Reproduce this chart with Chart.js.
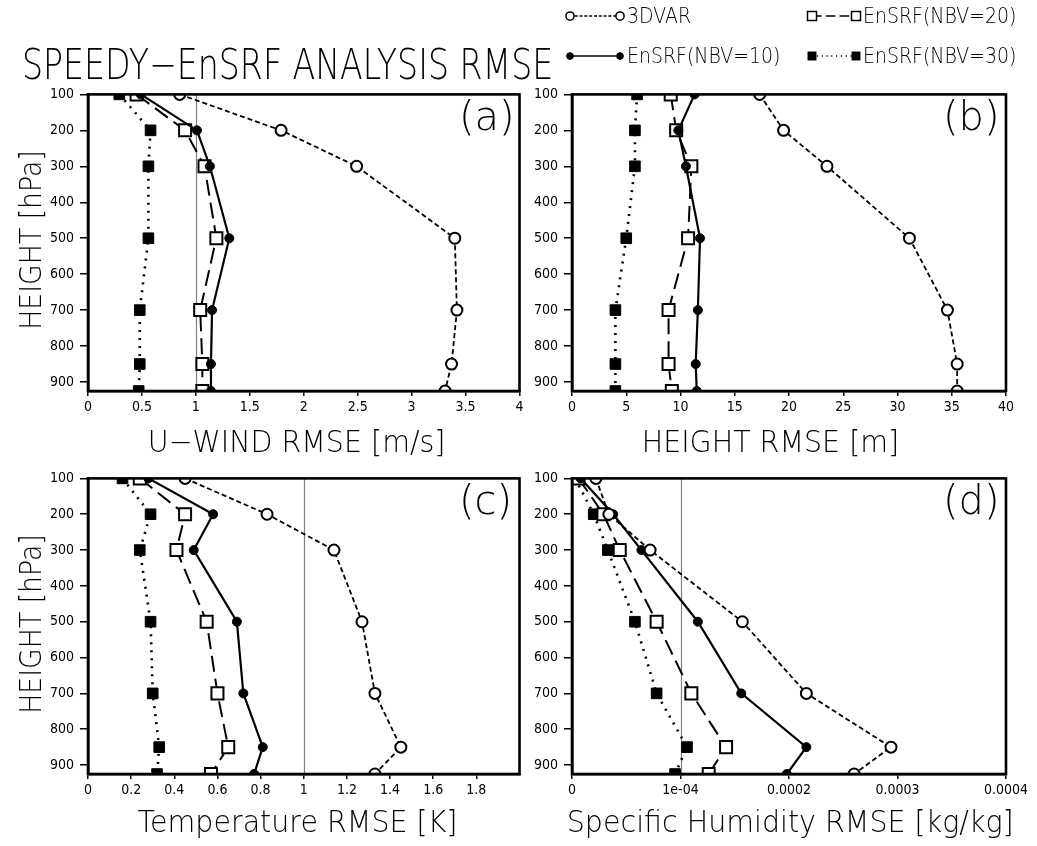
<!DOCTYPE html>
<html><head><meta charset="utf-8">
<script src="https://cdn.jsdelivr.net/npm/chart.js@4.4.1/dist/chart.umd.min.js"></script>
<style>
body{margin:0;background:#fff;width:1037px;height:846px;overflow:hidden;position:relative;font-family:'DejaVu Sans',sans-serif;}
canvas{position:absolute;}
.t{position:absolute;white-space:nowrap;font-weight:200;color:#000;line-height:1;}
.s{display:inline-block;}
svg{position:absolute;left:0;top:0;}
</style></head><body>
<script>
// ---------------- data ----------------
const levels = [100, 200, 300, 500, 700, 850, 925];
const yTicks = [100, 200, 300, 400, 500, 600, 700, 800, 900];
const seriesNames = ['3DVAR', 'EnSRF(NBV=10)', 'EnSRF(NBV=20)', 'EnSRF(NBV=30)'];

// (a) U-wind RMSE [m/s]
const uwind3dvar = [0.85, 1.79, 2.49, 3.40, 3.42, 3.37, 3.31];
const uwindNbv10 = [0.49, 1.01, 1.13, 1.31, 1.15, 1.14, 1.14];
const uwindNbv20 = [0.45, 0.90, 1.08, 1.19, 1.04, 1.06, 1.06];
const uwindNbv30 = [0.29, 0.58, 0.56, 0.56, 0.48, 0.48, 0.47];
const uwindTicks = [0, 0.5, 1, 1.5, 2, 2.5, 3, 3.5, 4];
const uwindTickLabels = ['0', '0.5', '1', '1.5', '2', '2.5', '3', '3.5', '4'];

// (b) Height RMSE [m]
const hgt3dvar = [17.3, 19.5, 23.5, 31.1, 34.6, 35.5, 35.5];
const hgtNbv10 = [11.3, 9.8, 10.5, 11.8, 11.6, 11.4, 11.5];
const hgtNbv20 = [9.1, 9.6, 11.0, 10.7, 8.9, 8.9, 9.2];
const hgtNbv30 = [6.0, 5.8, 5.8, 5.0, 4.0, 4.0, 4.0];
const hgtTicks = [0, 5, 10, 15, 20, 25, 30, 35, 40];
const hgtTickLabels = ['0', '5', '10', '15', '20', '25', '30', '35', '40'];

// (c) Temperature RMSE [K]
const temp3dvar = [0.45, 0.83, 1.14, 1.27, 1.33, 1.45, 1.33];
const tempNbv10 = [0.28, 0.58, 0.49, 0.69, 0.72, 0.81, 0.77];
const tempNbv20 = [0.24, 0.45, 0.41, 0.55, 0.60, 0.65, 0.57];
const tempNbv30 = [0.16, 0.29, 0.24, 0.29, 0.30, 0.33, 0.32];
const tempTicks = [0, 0.2, 0.4, 0.6, 0.8, 1, 1.2, 1.4, 1.6, 1.8];
const tempTickLabels = ['0', '0.2', '0.4', '0.6', '0.8', '1', '1.2', '1.4', '1.6', '1.8'];

// (d) Specific humidity RMSE [kg/kg]
const qv3dvar = [0.000022, 0.000034, 0.000072, 0.000157, 0.000216, 0.000294, 0.000260];
const qvNbv10 = [0.000008, 0.000038, 0.000064, 0.000116, 0.000156, 0.000216, 0.000198];
const qvNbv20 = [0.000006, 0.000029, 0.000044, 0.000078, 0.000110, 0.000142, 0.000126];
const qvNbv30 = [0.000003, 0.000020, 0.000033, 0.000058, 0.000078, 0.000106, 0.000095];
const qvTicks = [0, 0.0001, 0.0002, 0.0003, 0.0004];
const qvTickLabels = ['0', '1e-04', '0.0002', '0.0003', '0.0004'];

// ---------------- styles ----------------
const seriesStyle = [
  {borderDash: [5, 3], borderWidth: 1.8, pointStyle: 'circle', pointRadius: 5.5, pointBackgroundColor: '#fff', pointBorderWidth: 2},
  {borderDash: [], borderWidth: 2.2, pointStyle: 'circle', pointRadius: 4.5, pointBackgroundColor: '#000', pointBorderWidth: 1},
  {borderDash: [16, 7], borderWidth: 2, pointStyle: 'rect', pointRadius: 8.5, pointBackgroundColor: '#fff', pointBorderWidth: 2},
  {borderDash: [2, 6], borderWidth: 2.6, pointStyle: 'rect', pointRadius: 7.5, pointBackgroundColor: '#000', pointBorderWidth: 1}
];

const TICK_FONT = "'Liberation Sans Narrow','DejaVu Sans Condensed','Liberation Sans',sans-serif";
Chart.defaults.font.family = TICK_FONT;
Chart.defaults.font.size = 14;
Chart.defaults.color = '#000';

const framePlugin = {
  id: 'frame',
  beforeDatasetsDraw(chart, args, opts) {
    const {ctx, chartArea: a, scales} = chart;
    ctx.save();
    ctx.strokeStyle = '#808080';
    ctx.lineWidth = 1.2;
    (opts.refLines || []).forEach(v => {
      const px = Math.round(scales.x.getPixelForValue(v)) + 0.5;
      ctx.beginPath(); ctx.moveTo(px, a.top); ctx.lineTo(px, a.bottom); ctx.stroke();
    });
    ctx.restore();
  },
  afterDatasetsDraw(chart) {
    const {ctx, chartArea: a} = chart;
    ctx.save();
    ctx.strokeStyle = '#000';
    ctx.lineWidth = 2.6;
    ctx.strokeRect(a.left, a.top, a.right - a.left, a.bottom - a.top);
    ctx.restore();
  }
};

function makePanel(left, top, width, height, padRight, series, xMax, xTicks, xLabels, refLines) {
  const cv = document.createElement('canvas');
  cv.width = width; cv.height = height;
  cv.style.left = left + 'px'; cv.style.top = top + 'px';
  document.body.appendChild(cv);
  new Chart(cv.getContext('2d'), {
    type: 'line',
    data: {
      datasets: series.map((vals, i) => Object.assign({
        label: seriesNames[i],
        data: vals.map((v, k) => ({x: v, y: levels[k]})),
        borderColor: '#000',
        pointBorderColor: '#000',
        fill: false,
        tension: 0,
        clip: 0
      }, seriesStyle[i]))
    },
    options: {
      animation: false, responsive: false, devicePixelRatio: 1,
      layout: {padding: {top: 10, right: padRight, left: 0, bottom: 0}},
      plugins: {legend: {display: false}, tooltip: {enabled: false}, frame: {refLines: refLines}},
      scales: {
        x: {
          type: 'linear', min: 0, max: xMax,
          afterBuildTicks: s => { s.ticks = xTicks.map(v => ({value: v})); },
          afterFit: s => { s.height = 34; },
          ticks: {callback: (v, i) => xLabels[i], maxRotation: 0, autoSkip: false, padding: 3},
          grid: {display: true, drawOnChartArea: false, drawTicks: true, tickLength: 5, color: '#000', lineWidth: 1.5},
          border: {display: true, color: '#000', width: 2.6}
        },
        y: {
          type: 'linear', reverse: true, min: 100, max: 925,
          afterBuildTicks: s => { s.ticks = yTicks.map(v => ({value: v})); },
          afterFit: s => { s.width = 88; },
          ticks: {callback: (v, i) => String(yTicks[i]), padding: 6},
          grid: {display: true, drawOnChartArea: false, drawTicks: true, tickLength: 8, color: '#000', lineWidth: 1.5},
          border: {display: true, color: '#000', width: 2.6}
        }
      }
    },
    plugins: [framePlugin]
  });
}

makePanel(0, 80, 530, 345, 8, [uwind3dvar, uwindNbv10, uwindNbv20, uwindNbv30], 4, uwindTicks, uwindTickLabels, [1]);
makePanel(484, 80, 553, 345, 31, [hgt3dvar, hgtNbv10, hgtNbv20, hgtNbv30], 40, hgtTicks, hgtTickLabels, []);
makePanel(0, 464, 530, 344, 8, [temp3dvar, tempNbv10, tempNbv20, tempNbv30], 2, tempTicks, tempTickLabels, [1]);
makePanel(484, 464, 553, 344, 31, [qv3dvar, qvNbv10, qvNbv20, qvNbv30], 0.0004, qvTicks, qvTickLabels, [0.0001]);

// ---------------- text overlays ----------------
function addText(txt, opts) {
  const d = document.createElement('div');
  d.className = 't';
  d.style.fontSize = opts.size + 'px';
  const sp = document.createElement('span');
  sp.className = 's';
  sp.textContent = txt;
  d.appendChild(sp);
  if (opts.rotate) {
    d.style.left = opts.cx + 'px'; d.style.top = opts.cy + 'px';
    d.style.transform = 'translate(-50%,-50%) rotate(-90deg) scaleX(' + opts.sx + ')';
  } else if (opts.center) {
    d.style.left = (opts.cx - 400) + 'px'; d.style.width = '800px'; d.style.textAlign = 'center';
    d.style.top = opts.top + 'px';
    sp.style.transform = 'scaleX(' + opts.sx + ')';
  } else {
    d.style.left = opts.left + 'px'; d.style.top = opts.top + 'px';
    d.style.transformOrigin = 'left center';
    d.style.transform = 'scaleX(' + opts.sx + ')';
  }
  document.body.appendChild(d);
  return d;
}

addText('SPEEDY\u2212EnSRF ANALYSIS RMSE', {size: 42, left: 22, top: 44, sx: 0.79});
addText('U\u2212WIND RMSE [m/s]', {size: 30, center: true, cx: 297, top: 427, sx: 0.95});
addText('HEIGHT RMSE [m]', {size: 30, center: true, cx: 770, top: 427, sx: 0.95});
addText('Temperature RMSE [K]', {size: 30, center: true, cx: 297, top: 807, sx: 0.95});
addText('Specific Humidity RMSE [kg/kg]', {size: 30, center: true, cx: 790, top: 807, sx: 0.95});
addText('HEIGHT [hPa]', {size: 30, rotate: true, cx: 31, cy: 240, sx: 0.89});
addText('HEIGHT [hPa]', {size: 30, rotate: true, cx: 31, cy: 624, sx: 0.89});
addText('(a)', {size: 40, left: 459, top: 96, sx: 1});
addText('(b)', {size: 40, left: 943, top: 96, sx: 1});
addText('(c)', {size: 40, left: 459, top: 480, sx: 1});
addText('(d)', {size: 40, left: 943, top: 480, sx: 1});

// ---------------- legend ----------------
const legendItems = [
  {series: 0, x1: 570, x2: 620, y: 16, tx: 627},
  {series: 2, x1: 812, x2: 856, y: 16, tx: 863},
  {series: 1, x1: 570, x2: 620, y: 56, tx: 627},
  {series: 3, x1: 812, x2: 856, y: 56, tx: 863}
];
const NS = 'http://www.w3.org/2000/svg';
const svg = document.createElementNS(NS, 'svg');
svg.setAttribute('width', 1037); svg.setAttribute('height', 80);
document.body.appendChild(svg);
function marker(st, x, y) {
  let el;
  if (st.pointStyle === 'circle') {
    el = document.createElementNS(NS, 'circle');
    el.setAttribute('cx', x); el.setAttribute('cy', y); el.setAttribute('r', st.pointRadius * 0.75);
  } else {
    const h = st.pointRadius * Math.SQRT1_2 * 0.75;
    el = document.createElementNS(NS, 'rect');
    el.setAttribute('x', x - h); el.setAttribute('y', y - h);
    el.setAttribute('width', 2 * h); el.setAttribute('height', 2 * h);
  }
  el.setAttribute('fill', st.pointBackgroundColor);
  el.setAttribute('stroke', '#000');
  el.setAttribute('stroke-width', Math.min(st.pointBorderWidth, 1.5));
  svg.appendChild(el);
}
legendItems.forEach(it => {
  const st = seriesStyle[it.series];
  const ln = document.createElementNS(NS, 'line');
  ln.setAttribute('x1', it.x1); ln.setAttribute('x2', it.x2);
  ln.setAttribute('y1', it.y); ln.setAttribute('y2', it.y);
  ln.setAttribute('stroke', '#000');
  ln.setAttribute('stroke-width', Math.min(st.borderWidth, 1.5));
  if (st.borderDash.length) ln.setAttribute('stroke-dasharray', st.borderDash.map(v => v * 0.6).join(','));
  svg.appendChild(ln);
  marker(st, it.x1, it.y);
  marker(st, it.x2, it.y);
  addText(seriesNames[it.series], {size: 21, left: it.tx, top: it.y - 10.5, sx: 0.9});
});
</script>
</body></html>
